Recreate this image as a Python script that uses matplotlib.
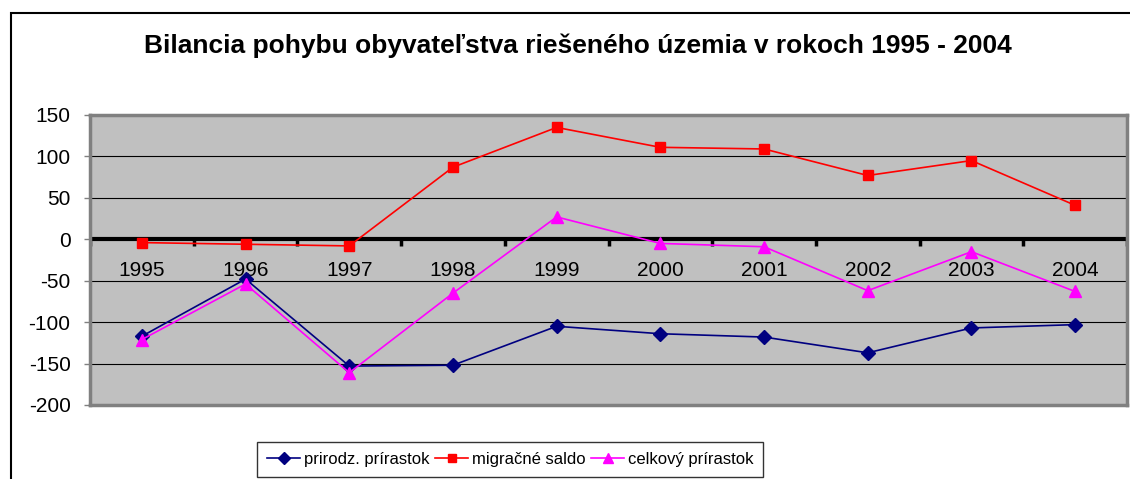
import numpy as np
import matplotlib
matplotlib.use("Agg")
import matplotlib.pyplot as plt
from matplotlib.patches import Rectangle

plt.rcParams['font.family'] = ['Liberation Sans', 'DejaVu Sans']

years = ['1995', '1996', '1997', '1998', '1999', '2000', '2001', '2002', '2003', '2004']
prirodz = [-117, -48, -153, -152, -105, -114, -118, -137, -107, -103]
migracne = [-4, -6, -8, 87, 135, 111, 109, 77, 95, 41]
celkovy = [-121, -54, -161, -65, 27, -5, -9, -62, -15, -63]
yticks = [150, 100, 50, 0, -50, -100, -150, -200]

W, H = 1130, 479
fig = plt.figure(figsize=(W / 100, H / 100), dpi=100)

# outer chart frame (cut off at right and bottom, like the original)
fig.patches.append(Rectangle((11 / W, -0.1), 1.2, 1 - 13 / H + 0.1, transform=fig.transFigure,
                             fill=False, edgecolor='black', lw=1.5))

ax = fig.add_axes([90 / W, 1 - 405 / H, (1127 - 90) / W, (405 - 115) / H])
ax.set_facecolor('#C0C0C0')
x = np.arange(len(years))

ax.set_xlim(-0.5, len(years) - 0.5)
ax.set_ylim(-200, 150)
ax.set_yticks(yticks)
ax.set_yticklabels([str(v) for v in yticks])
ax.tick_params(axis='y', length=4, width=1, pad=10, labelsize=15, color='#808080')
ax.set_xticks([])
for v in yticks[1:-1]:
    ax.axhline(v, color='black', lw=0.8, zorder=1)
for s in ax.spines.values():
    s.set_color('#808080')
    s.set_linewidth(2.5)

# category axis sits on zero
ax.axhline(0, color='black', lw=3, zorder=2)
ax.vlines(np.arange(-0.5, len(years)), -8, 0, color='black', lw=2.5, zorder=2)
for i, yr in enumerate(years):
    ax.text(i, -38, yr, ha='center', va='center', fontsize=15, zorder=3)

ax.plot(x, prirodz, color='#000080', marker='D', ms=7, lw=1.2, label='prirodz. prírastok', zorder=4)
ax.plot(x, migracne, color='#FF0000', marker='s', ms=7, lw=1.2, label='migračné saldo', zorder=4)
ax.plot(x, celkovy, color='#FF00FF', marker='^', ms=8, lw=1.2, label='celkový prírastok', zorder=4)

fig.text(578 / W, 1 - 46 / H, 'Bilancia pohybu obyvateľstva riešeného územia v rokoch 1995 - 2004',
         ha='center', va='center', fontsize=19, fontweight='bold')

leg = fig.legend(loc='upper center', bbox_to_anchor=(510 / W, 1 - 442 / H), ncol=3, fontsize=12,
                 frameon=True, fancybox=False, edgecolor='black', handlelength=2.0,
                 columnspacing=0.35, handletextpad=0.2, borderaxespad=0, borderpad=0.6,
                 markerscale=0.85)
leg.get_frame().set_linewidth(1)

fig.savefig('out.png', dpi=100)
